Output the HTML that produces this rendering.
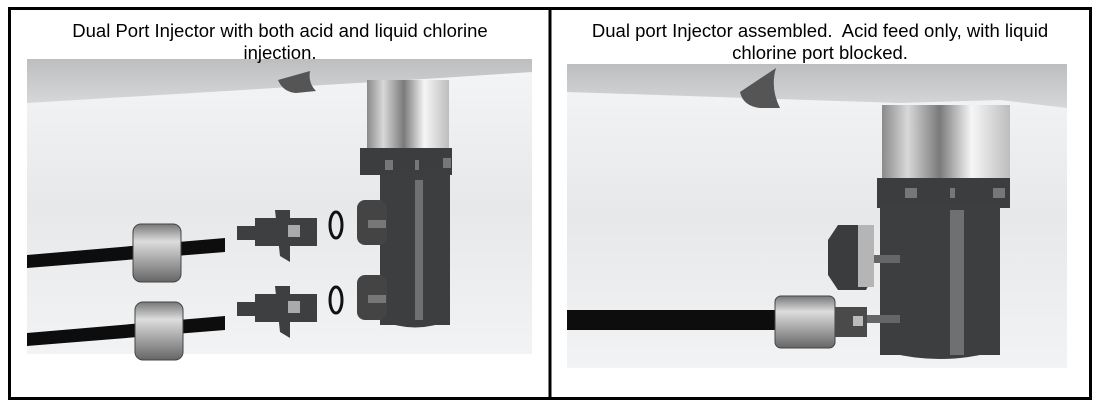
<!DOCTYPE html>
<html><head><meta charset="utf-8"><style>
html,body{margin:0;padding:0;background:#fff;}
body{width:1100px;height:410px;position:relative;overflow:hidden;font-family:"Liberation Sans",sans-serif;}
.t{position:absolute;font-size:18.5px;text-align:center;line-height:22px;color:#000;white-space:nowrap;}
</style></head><body>
<svg width="1100" height="410" style="position:absolute;left:0;top:0">
<defs>
<linearGradient id="bg" x1="0" y1="0" x2="0" y2="1"><stop offset="0" stop-color="#f4f5f7"/><stop offset="0.5" stop-color="#e6e8ea"/><stop offset="1" stop-color="#f2f3f4"/></linearGradient>
<linearGradient id="pipe" x1="0" y1="0" x2="0" y2="1"><stop offset="0" stop-color="#bdbebf"/><stop offset="1" stop-color="#d6d7d8"/></linearGradient>
<linearGradient id="ch" x1="0" y1="0" x2="1" y2="0"><stop offset="0" stop-color="#8a8a8a"/><stop offset="0.2" stop-color="#d8d8d8"/><stop offset="0.45" stop-color="#7a7a7a"/><stop offset="0.7" stop-color="#f6f6f6"/><stop offset="1" stop-color="#bdbdbd"/></linearGradient>
<linearGradient id="nut" x1="0" y1="0" x2="0" y2="1"><stop offset="0" stop-color="#777"/><stop offset="0.3" stop-color="#ddd"/><stop offset="0.6" stop-color="#aaa"/><stop offset="1" stop-color="#666"/></linearGradient>
</defs>
<rect x="27" y="59" width="505" height="295" fill="url(#bg)"/>
<polygon points="27,59 532,59 532,72 440,78 27,103" fill="url(#pipe)"/>
<path d="M278,80 q5,12 18,13 l20,-2 q-8,-8 -6,-20 z" fill="#555"/>
<rect x="367" y="80" width="82" height="72" fill="url(#ch)"/>
<rect x="360" y="148" width="92" height="27" fill="#3c3d3f"/>
<rect x="385" y="160" width="8" height="10" fill="#777"/><rect x="415" y="160" width="4" height="10" fill="#777"/><rect x="443" y="158" width="8" height="10" fill="#777"/>
<rect x="380" y="175" width="70" height="150" fill="#3d3e40"/>
<path d="M380,320 q35,15 70,0 v5 h-70z" fill="#3d3e40"/>
<rect x="415" y="180" width="8" height="140" fill="#6e7072"/>
<rect x="357" y="200" width="30" height="45" rx="8" fill="#444"/>
<rect x="368" y="220" width="18" height="8" fill="#777"/>
<rect x="357" y="275" width="30" height="45" rx="8" fill="#444"/>
<rect x="368" y="295" width="18" height="8" fill="#777"/>
<ellipse cx="336" cy="225" rx="6" ry="13" fill="none" stroke="#111" stroke-width="3"/>
<ellipse cx="336" cy="300" rx="6" ry="13" fill="none" stroke="#111" stroke-width="3"/>
<g fill="#3e3f41">
<rect x="237" y="226" width="20" height="14"/><rect x="255" y="218" width="62" height="28"/><polygon points="275,210 290,210 290,262 280,256"/>
<rect x="237" y="302" width="20" height="14"/><rect x="255" y="294" width="62" height="28"/><polygon points="275,286 290,286 290,338 280,332"/>
</g>
<rect x="288" y="225" width="12" height="12" fill="#aaa"/><rect x="288" y="301" width="12" height="12" fill="#aaa"/>
<polygon points="27,255 225,238 225,252 27,268" fill="#0d0d0d"/>
<polygon points="27,333 225,316 225,330 27,346" fill="#0d0d0d"/>
<rect x="133" y="224" width="48" height="58" rx="8" fill="url(#nut)" stroke="#444"/>
<rect x="135" y="302" width="48" height="58" rx="8" fill="url(#nut)" stroke="#444"/>
<rect x="567" y="64" width="500" height="304" fill="url(#bg)"/>
<polygon points="567,64 1067,64 1067,108 1000,100 900,103 567,92" fill="url(#pipe)"/>
<path d="M740,92 q3,14 20,16 l20,0 q-10,-20 -4,-40 z" fill="#555"/>
<rect x="882" y="105" width="128" height="75" fill="url(#ch)"/>
<rect x="877" y="178" width="133" height="30" fill="#3c3d3f"/>
<rect x="905" y="188" width="12" height="10" fill="#777"/><rect x="950" y="188" width="5" height="10" fill="#777"/><rect x="993" y="188" width="12" height="10" fill="#777"/>
<rect x="880" y="205" width="120" height="150" fill="#3d3e40"/>
<path d="M880,350 q60,18 120,0 v5 h-120z" fill="#3d3e40"/>
<rect x="950" y="210" width="14" height="145" fill="#6e7072"/>
<rect x="870" y="255" width="30" height="8" fill="#666"/>
<rect x="865" y="315" width="35" height="8" fill="#666"/>
<polygon points="838,225 866,225 874,240 874,275 866,290 838,290 828,275 828,240" fill="#3b3c3e"/>
<rect x="858" y="225" width="16" height="62" fill="#b5b5b5"/>
<rect x="567" y="310" width="215" height="20" fill="#0d0d0d"/>
<rect x="775" y="296" width="60" height="52" rx="6" fill="url(#nut)" stroke="#444"/>
<rect x="835" y="307" width="32" height="30" fill="#4a4a4a"/>
<rect x="853" y="316" width="10" height="10" fill="#bbb"/>
<rect x="9.5" y="8.5" width="1081" height="390" fill="none" stroke="#000" stroke-width="3"/>
<line x1="550" y1="8" x2="550" y2="399" stroke="#000" stroke-width="3"/>
</svg>
<div class="t" style="left:20px;top:20px;width:520px">Dual Port Injector with both acid and liquid chlorine<br>injection.</div>
<div class="t" style="left:560px;top:20px;width:520px">Dual port Injector assembled.&nbsp; Acid feed only, with liquid<br>chlorine port blocked.</div>
</body></html>
